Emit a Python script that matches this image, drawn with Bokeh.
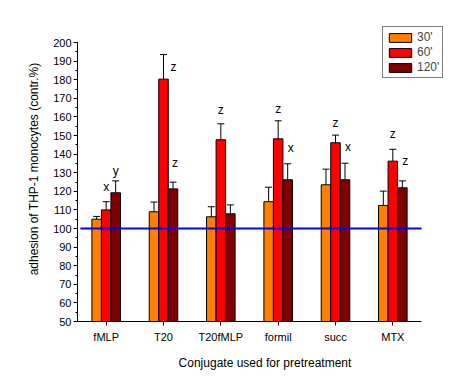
from bokeh.plotting import figure
from bokeh.models import (ColumnDataSource, Range1d, FixedTicker, SingleIntervalTicker,
                          Whisker, TeeHead, Legend, LegendItem)
from bokeh.core.properties import value
from bokeh.embed import file_html
from bokeh.resources import INLINE

categories = ["fMLP", "T20", "T20fMLP", "formil", "succ", "MTX"]
series = ["30'", "60'", "120'"]
mean_30 = [105.0, 109.0, 106.3, 114.4, 123.5, 112.4]
err_30 = [1.5, 5.2, 5.4, 7.8, 8.4, 7.7]
mean_60 = [110.0, 180.3, 147.7, 148.2, 146.1, 136.2]
err_60 = [4.4, 13.2, 8.6, 9.7, 4.1, 6.4]
mean_120 = [119.2, 121.3, 107.9, 126.2, 126.2, 121.9]
err_120 = [6.4, 3.6, 4.8, 8.6, 8.9, 3.7]
control_level = 100

# significance letters: category index, series index, letter, y value
label_cat = [0, 0, 1, 1, 2, 3, 3, 4, 4, 5, 5]
label_series = [1, 2, 1, 2, 1, 1, 2, 1, 2, 1, 2]
label_text = ["x", "y", "z", "z", "z", "z", "x", "z", "x", "z", "z"]
label_y = [121.0, 130.0, 185.5, 134.0, 162.4, 163.4, 142.0, 155.4, 142.5, 150.0, 135.0]
label_nudge = [0, 0, 10, 2, 0, 0, 3, 0, 3, 0, 3]  # px

colors = ["#FF8000", "#FF0000", "#800000"]
bar_w = 0.166
offsets = [-bar_w, 0.0, bar_w]
FONT = "Liberation Sans"

# axis extents and the frame, extended beyond the axes so the legend is not clipped
X_AX = (0.5, 6.5)
Y_AX = (50, 200)
W, H = 464, 383
LEFT, RIGHT, TOP, BOTTOM = 77, 12, 16, 62
AX_RIGHT_PX, AX_TOP_PX = 421, 42          # where the drawn axes end
frame_w = W - LEFT - RIGHT
frame_h = H - TOP - BOTTOM
px_x = (AX_RIGHT_PX - LEFT) / (X_AX[1] - X_AX[0])
px_y = ((H - BOTTOM) - AX_TOP_PX) / (Y_AX[1] - Y_AX[0])
x_end = X_AX[0] + frame_w / px_x
y_end = Y_AX[0] + frame_h / px_y

p = figure(width=W, height=H, output_backend="svg", toolbar_location=None,
           x_range=Range1d(X_AX[0], x_end), y_range=Range1d(Y_AX[0], y_end),
           min_border_left=LEFT, min_border_right=RIGHT, min_border_top=TOP,
           min_border_bottom=BOTTOM)
p.outline_line_color = None
p.xgrid.visible = False
p.ygrid.visible = False
p.background_fill_color = "white"
p.border_fill_color = "white"

means = [mean_30, mean_60, mean_120]
errs = [err_30, err_60, err_120]
items = []
for i in range(3):
    xs = [k + 1 + offsets[i] for k in range(len(categories))]
    src = ColumnDataSource(dict(x=xs, top=means[i],
                                upper=[m + e for m, e in zip(means[i], errs[i])]))
    r = p.vbar(x="x", top="top", bottom=0, width=bar_w, source=src,
               fill_color=colors[i], line_color="black", line_width=1)
    items.append(LegendItem(label=series[i], renderers=[r]))
    w = Whisker(source=src, base="x", lower="top", upper="upper", dimension="height",
                line_color="black", line_width=1,
                upper_head=TeeHead(size=7, line_color="black", line_width=1),
                lower_head=None)
    p.add_layout(w)

# control (100 %) line across the axis extent
p.line(x=[X_AX[0] + 0.05, X_AX[1]], y=[control_level, control_level],
       line_color="#0000FF", line_width=2)

lx = [c + 1 + offsets[s] for c, s in zip(label_cat, label_series)]
lsrc = ColumnDataSource(dict(x=lx, y=label_y, t=label_text, dx=label_nudge))
p.text(x="x", y="y", text="t", x_offset="dx", y_offset=-2, source=lsrc, text_align="center",
       text_baseline="middle", text_font=value(FONT), text_font_size="12px", text_color="black")

legend = Legend(items=items, location=(305, 243), label_text_font=FONT,
                label_text_font_size="12px", glyph_width=28, glyph_height=11,
                label_height=11, label_standoff=3, spacing=1, padding=3, margin=0,
                border_line_color="black", border_line_width=1,
                background_fill_alpha=1.0)
p.add_layout(legend)

# axes
p.xaxis.ticker = FixedTicker(ticks=list(range(1, len(categories) + 1)), minor_ticks=[])
p.xaxis.major_label_overrides = {k + 1: c for k, c in enumerate(categories)}
p.yaxis.ticker = SingleIntervalTicker(interval=10, num_minor_ticks=2)
p.xaxis.bounds = X_AX
p.yaxis.bounds = Y_AX
for ax in (p.xaxis[0], p.yaxis[0]):
    ax.axis_line_color = "black"
    ax.major_tick_line_color = "black"
    ax.minor_tick_line_color = "black"
    ax.major_tick_in = 0
    ax.major_tick_out = 4
    ax.minor_tick_in = 0
    ax.minor_tick_out = 2
    ax.major_label_text_font = FONT
    ax.major_label_text_font_size = "11px"
    ax.major_label_text_color = "black"
    ax.axis_label_text_font = FONT
    ax.axis_label_text_font_size = "12px"
    ax.axis_label_text_font_style = "normal"
    ax.axis_label_text_color = "black"
p.yaxis.major_label_standoff = 2
p.xaxis.major_label_standoff = 5
p.yaxis.axis_label = "adhesion of THP-1 monocytes (contr.%)"
p.xaxis.axis_label = "Conjugate used for pretreatment"
p.yaxis.axis_label_standoff = 9
p.xaxis.axis_label_standoff = 10

open("out.html", "w").write(file_html(p, INLINE))
